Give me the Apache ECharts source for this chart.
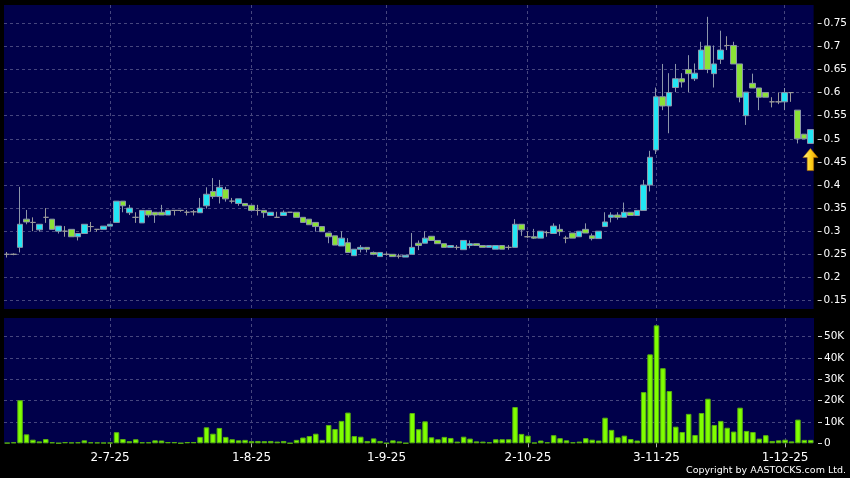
<!DOCTYPE html>
<html>
<head>
<meta charset="utf-8">
<script src="https://cdn.jsdelivr.net/npm/echarts@6/dist/echarts.min.js"></script>
<style>
html,body{margin:0;padding:0;background:#000;}
#c{width:850px;height:478px;}
</style>
</head>
<body>
<div id="c"></div>
<script>
// trading days (d-m-yy)
const dates = [
 '9-6-25','10-6-25','11-6-25','12-6-25','13-6-25','16-6-25','17-6-25','18-6-25','19-6-25','20-6-25',
 '23-6-25','24-6-25','25-6-25','26-6-25','27-6-25','30-6-25',
 '2-7-25','3-7-25','4-7-25','7-7-25','8-7-25','9-7-25','10-7-25','11-7-25','14-7-25','15-7-25','16-7-25','17-7-25','18-7-25',
 '21-7-25','22-7-25','23-7-25','24-7-25','25-7-25','28-7-25','29-7-25','30-7-25','31-7-25',
 '1-8-25','4-8-25','5-8-25','6-8-25','7-8-25','8-8-25','11-8-25','12-8-25','13-8-25','14-8-25','15-8-25',
 '18-8-25','19-8-25','20-8-25','21-8-25','22-8-25','25-8-25','26-8-25','27-8-25','28-8-25','29-8-25',
 '1-9-25','2-9-25','3-9-25','4-9-25','5-9-25','8-9-25','9-9-25','10-9-25','11-9-25','12-9-25',
 '15-9-25','16-9-25','17-9-25','18-9-25','19-9-25','22-9-25','23-9-25','24-9-25','25-9-25','26-9-25','29-9-25','30-9-25',
 '2-10-25','3-10-25','6-10-25','8-10-25','9-10-25','10-10-25','13-10-25','14-10-25','15-10-25','16-10-25','17-10-25',
 '20-10-25','21-10-25','22-10-25','23-10-25','24-10-25','27-10-25','28-10-25','30-10-25','31-10-25',
 '3-11-25','4-11-25','5-11-25','6-11-25','7-11-25','10-11-25','11-11-25','12-11-25','13-11-25','14-11-25',
 '17-11-25','18-11-25','19-11-25','20-11-25','21-11-25','24-11-25','25-11-25','26-11-25','27-11-25','28-11-25',
 '1-12-25','2-12-25','3-12-25','4-12-25','5-12-25'
];

const opens = [
 0.25,0.25,0.265,0.326,0.319,0.303,0.33,0.326,0.30,0.30,0.304,0.288,0.295,0.31,0.304,0.304,0.311,
 0.319,0.365,0.34,0.33,0.318,0.345,0.341,0.341,0.335,0.345,0.345,0.341,0.342,0.34,0.355,0.386,0.375,0.39,0.365,0.36,0.36,
 0.356,0.345,0.345,0.334,0.33,0.334,0.341,0.341,0.33,0.326,0.319,0.31,0.296,0.29,0.268,0.275,0.247,0.261,0.265,0.254,0.245,0.25,
 0.25,0.246,0.244,0.25,0.274,0.274,0.289,0.28,0.273,0.265,0.265,0.26,0.269,0.273,0.269,0.265,0.261,0.269,0.265,0.265,0.315,
 0.288,0.288,0.285,0.297,0.295,0.304,0.285,0.296,0.288,0.304,0.29,0.284,0.31,0.33,0.335,0.33,0.341,0.334,0.345,0.40,
 0.476,0.591,0.571,0.611,0.63,0.65,0.63,0.65,0.701,0.641,0.672,0.702,0.702,0.662,0.55,0.62,0.61,0.60,0.58,0.58,
 0.58,0.60,0.562,0.51,0.49
];
const closes = [
 0.25,0.25,0.315,0.32,0.319,0.315,0.33,0.304,0.311,0.30,0.288,0.295,0.315,0.31,0.304,0.311,0.315,
 0.365,0.355,0.35,0.33,0.345,0.335,0.335,0.335,0.345,0.345,0.345,0.341,0.342,0.35,0.38,0.375,0.395,0.37,0.365,0.37,0.355,
 0.345,0.345,0.34,0.341,0.33,0.341,0.341,0.33,0.319,0.314,0.31,0.299,0.288,0.27,0.285,0.254,0.261,0.265,0.261,0.25,0.254,0.25,
 0.245,0.246,0.248,0.265,0.269,0.285,0.28,0.273,0.265,0.269,0.265,0.28,0.273,0.269,0.265,0.269,0.269,0.261,0.265,0.315,0.303,
 0.288,0.285,0.30,0.297,0.311,0.299,0.285,0.285,0.30,0.296,0.284,0.30,0.32,0.335,0.33,0.341,0.334,0.345,0.40,0.46,
 0.591,0.571,0.60,0.63,0.623,0.641,0.642,0.692,0.65,0.662,0.692,0.702,0.662,0.59,0.601,0.61,0.59,0.59,0.58,0.58,
 0.60,0.60,0.50,0.50,0.52
];
const lows = [
 0.243,0.248,0.254,0.315,0.30,0.299,0.318,0.304,0.295,0.288,0.288,0.28,0.295,0.299,0.299,0.304,0.311,
 0.319,0.341,0.335,0.318,0.318,0.33,0.318,0.335,0.335,0.334,0.342,0.334,0.334,0.34,0.349,0.37,0.36,0.364,0.36,0.355,0.355,
 0.345,0.334,0.329,0.334,0.33,0.334,0.341,0.33,0.319,0.314,0.299,0.299,0.274,0.27,0.268,0.254,0.247,0.254,0.254,0.248,0.245,0.247,
 0.245,0.241,0.244,0.25,0.259,0.274,0.28,0.273,0.265,0.265,0.26,0.26,0.263,0.269,0.265,0.265,0.261,0.261,0.26,0.265,0.29,
 0.285,0.283,0.285,0.288,0.295,0.29,0.274,0.285,0.288,0.296,0.28,0.284,0.31,0.319,0.325,0.33,0.334,0.334,0.345,0.386,
 0.467,0.562,0.512,0.601,0.611,0.601,0.625,0.65,0.642,0.611,0.662,0.692,0.662,0.579,0.53,0.61,0.562,0.59,0.568,0.575,
 0.562,0.58,0.49,0.50,0.49
];
const highs = [
 0.255,0.252,0.396,0.346,0.33,0.315,0.35,0.326,0.311,0.311,0.304,0.295,0.315,0.32,0.304,0.311,0.315,
 0.365,0.365,0.357,0.341,0.345,0.345,0.341,0.357,0.345,0.345,0.345,0.346,0.346,0.372,0.395,0.415,0.411,0.396,0.372,0.37,0.36,
 0.356,0.357,0.345,0.341,0.342,0.345,0.341,0.341,0.33,0.326,0.319,0.31,0.296,0.29,0.30,0.285,0.261,0.27,0.265,0.256,0.254,0.254,
 0.25,0.251,0.248,0.296,0.28,0.30,0.289,0.28,0.273,0.269,0.27,0.28,0.28,0.273,0.269,0.269,0.269,0.269,0.27,0.326,0.315,
 0.30,0.305,0.30,0.301,0.317,0.315,0.29,0.296,0.30,0.317,0.295,0.30,0.341,0.341,0.341,0.362,0.341,0.345,0.411,0.474,
 0.611,0.662,0.642,0.662,0.642,0.681,0.663,0.71,0.764,0.702,0.734,0.722,0.71,0.662,0.601,0.641,0.61,0.60,0.59,0.60,
 0.61,0.60,0.562,0.51,0.52
];
const volumes = [
 200,500,20200,4200,1700,900,2000,500,100,600,400,500,1400,500,400,300,300,
 5200,2000,1000,1900,500,500,1400,1300,600,600,100,600,600,3000,7500,4500,7200,3000,1900,1400,1600,
 1000,1100,1000,1100,800,1100,100,1600,2700,3400,4500,1600,8600,6700,10500,14400,3400,3100,1100,2300,1100,100,
 1400,900,100,14200,6600,10300,2800,1900,3000,2500,800,3100,2200,900,800,500,1900,1900,1900,17000,4400,
 3600,300,1300,500,3800,2400,1400,500,800,2400,1700,1300,12000,6300,2800,3600,2000,1300,24000,41700,
 55300,35200,24500,7800,5300,13800,3900,14200,20900,8600,10500,7300,5500,16700,5800,5300,2200,3800,1100,1400,
 1700,900,11100,1600,1600
];
const priceTicks = [0.15,0.2,0.25,0.3,0.35,0.4,0.45,0.5,0.55,0.6,0.65,0.7,0.75];
const arrowAt = 0.455;

const candleData = opens.map((o, i) => [o, closes[i], lows[i], highs[i]]);
const isMonthStart = (i) => i > 0 && dates[i].split('-')[1] !== dates[i - 1].split('-')[1];

const FONT = 'DejaVu Sans';
const gridLine = { show: true, alignWithLabel: true, lineStyle: { color: '#46467e', type: [3, 3], width: 1 } };

const chart = echarts.init(document.getElementById('c'), null, { renderer: 'canvas' });
chart.setOption({
  animation: false,
  backgroundColor: '#000000',
  grid: [
    { left: 4, right: 36, top: 5, height: 304, show: true, backgroundColor: '#00004a', borderWidth: 0 },
    { left: 4, right: 36, top: 318, height: 125.3, show: true, backgroundColor: '#00004a', borderWidth: 0 }
  ],
  xAxis: [
    {
      type: 'category', gridIndex: 0, data: dates, boundaryGap: true,
      axisLine: { show: false }, axisTick: { show: false, alignWithLabel: true }, axisLabel: { show: false },
      splitLine: Object.assign({ interval: (i) => isMonthStart(i) }, gridLine)
    },
    {
      type: 'category', gridIndex: 1, data: dates, boundaryGap: true,
      axisLine: { show: false },
      axisTick: { show: true, alignWithLabel: true, interval: (i) => isMonthStart(i), length: 4, lineStyle: { color: '#b0b0b0' } },
      axisLabel: { show: true, interval: (i) => isMonthStart(i), color: '#ffffff', fontFamily: FONT, fontSize: 12, margin: 9 },
      splitLine: Object.assign({ interval: (i) => isMonthStart(i) }, gridLine)
    }
  ],
  yAxis: [
    {
      type: 'value', gridIndex: 0, position: 'right', offset: 4,
      min: 0.1316, max: 0.7896, splitNumber: 13, scale: true,
      axisLine: { show: false },
      axisTick: { show: true, length: 4, lineStyle: { color: '#d0d0d0' } },
      axisLabel: { color: '#ffffff', fontFamily: FONT, fontSize: 10.5, margin: 6, showMinLabel: false, showMaxLabel: false,
        formatter: (v) => priceTicks.some(t => Math.abs(t - v) < 1e-6) ? String(+v.toFixed(2)) : '' },
      splitLine: Object.assign({ showMinLine: false, showMaxLine: false }, gridLine)
    },
    {
      type: 'value', gridIndex: 1, position: 'right', offset: 4,
      min: 0, max: 58740, splitNumber: 6,
      axisLine: { show: false },
      axisTick: { show: true, length: 4, lineStyle: { color: '#d0d0d0' } },
      axisLabel: { color: '#ffffff', fontFamily: FONT, fontSize: 10.5, margin: 6, showMaxLabel: false,
        formatter: (v) => v === 0 ? '0' : (v % 10000 === 0 ? (v / 1000) + 'K' : '') },
      splitLine: Object.assign({ showMinLine: false, showMaxLine: false }, gridLine)
    }
  ],
  series: [
    {
      type: 'candlestick', xAxisIndex: 0, yAxisIndex: 0, data: candleData, barWidth: 6,
      itemStyle: {
        color: '#22e6f4', color0: '#8be236',
        borderColor: '#8c96aa', borderColor0: '#8c96aa', borderColorDoji: '#9a9a9a', borderWidth: 1
      },
      markPoint: {
        animation: false,
        data: [{
          coord: [dates[dates.length - 1], arrowAt],
          symbol: 'path://M7,0 L14,9 L10,9 L10,22 L4,22 L4,9 L0,9 Z',
          symbolSize: [15, 22],
          symbolKeepAspect: false,
          itemStyle: {
            color: new echarts.graphic.LinearGradient(0, 0, 1, 0, [
              { offset: 0, color: '#fff6a0' }, { offset: 0.5, color: '#ffd21a' }, { offset: 1, color: '#e89a00' }
            ]),
            borderColor: '#b07000', borderWidth: 0.6
          },
          label: { show: false }
        }]
      }
    },
    {
      type: 'bar', xAxisIndex: 1, yAxisIndex: 1, data: volumes, barWidth: 5.5,
      itemStyle: { color: '#80ff00', borderColor: '#58b010', borderWidth: 1 }
    }
  ],
  graphic: [
    {
      type: 'text', right: 4, top: 466,
      style: { text: 'Copyright by AASTOCKS.com Ltd.', fill: '#ffffff', font: '9.5px "DejaVu Sans"' }
    }
  ]
});
</script>
</body>
</html>
